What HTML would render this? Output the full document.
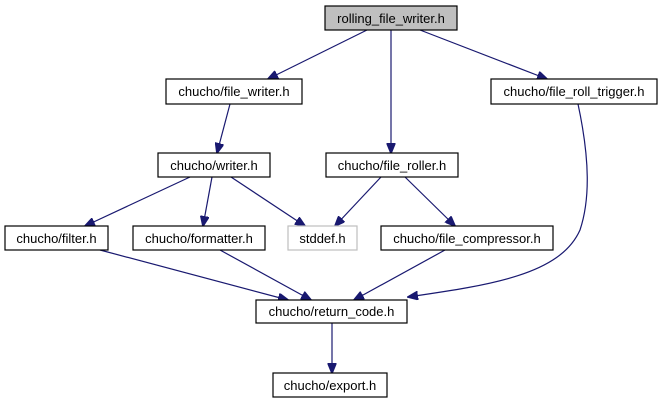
<!DOCTYPE html>
<html><head><meta charset="utf-8"><style>
body{margin:0;background:#fff}
svg text{font-family:"Liberation Sans",Arial,sans-serif;font-size:13px;fill:#000}
</style></head><body>
<svg width="663" height="403" viewBox="0 0 663 403" xmlns="http://www.w3.org/2000/svg">
<defs><marker id="a" markerWidth="11" markerHeight="9" refX="10" refY="4.5" orient="auto" markerUnits="userSpaceOnUse"><path d="M0,0 L11,4.5 L0,9 z" fill="#191970" stroke="#191970"/></marker></defs>
<g stroke="#191970" stroke-width="1.2" fill="none" marker-end="url(#a)">
<line x1="367" y1="30" x2="268" y2="79"/>
<line x1="391" y1="30" x2="391" y2="153"/>
<line x1="420" y1="30" x2="547" y2="79"/>
<line x1="230" y1="104" x2="217" y2="153"/>
<line x1="190" y1="177" x2="85" y2="226"/>
<line x1="212" y1="177" x2="203" y2="226"/>
<line x1="231" y1="177" x2="305" y2="226"/>
<line x1="381" y1="177" x2="335" y2="226"/>
<line x1="405" y1="177" x2="455" y2="226"/>
<line x1="100" y1="250" x2="288" y2="300"/>
<line x1="220" y1="250" x2="311" y2="300"/>
<line x1="445" y1="250" x2="354" y2="300"/>
<path d="M578,104 C590,160 590,200 580,230 C560,275 490,285 408,297"/>
<line x1="332" y1="323" x2="332" y2="373"/>
</g>
<g stroke-width="1.2">
<rect x="325" y="6" width="132" height="24" fill="#bfbfbf" stroke="#000"/>
<rect x="166" y="79" width="136" height="25" fill="#fff" stroke="#000"/>
<rect x="491" y="79" width="166" height="25" fill="#fff" stroke="#000"/>
<rect x="158" y="153" width="112" height="24" fill="#fff" stroke="#000"/>
<rect x="326" y="153" width="132" height="24" fill="#fff" stroke="#000"/>
<rect x="5" y="226" width="103" height="24" fill="#fff" stroke="#000"/>
<rect x="133" y="226" width="132" height="24" fill="#fff" stroke="#000"/>
<rect x="288" y="226" width="69" height="24" fill="#fff" stroke="#bfbfbf"/>
<rect x="381" y="226" width="172" height="24" fill="#fff" stroke="#000"/>
<rect x="256" y="300" width="151" height="23" fill="#fff" stroke="#000"/>
<rect x="273" y="373" width="114" height="24" fill="#fff" stroke="#000"/>
</g>
<g text-anchor="middle">
<text x="391" y="23">rolling_file_writer.h</text>
<text x="234" y="96">chucho/file_writer.h</text>
<text x="574" y="96">chucho/file_roll_trigger.h</text>
<text x="214" y="170">chucho/writer.h</text>
<text x="392" y="170">chucho/file_roller.h</text>
<text x="56.5" y="243">chucho/filter.h</text>
<text x="199" y="243">chucho/formatter.h</text>
<text x="322.5" y="243">stddef.h</text>
<text x="467" y="243">chucho/file_compressor.h</text>
<text x="331.5" y="316">chucho/return_code.h</text>
<text x="330" y="390">chucho/export.h</text>
</g>
</svg>
</body></html>
